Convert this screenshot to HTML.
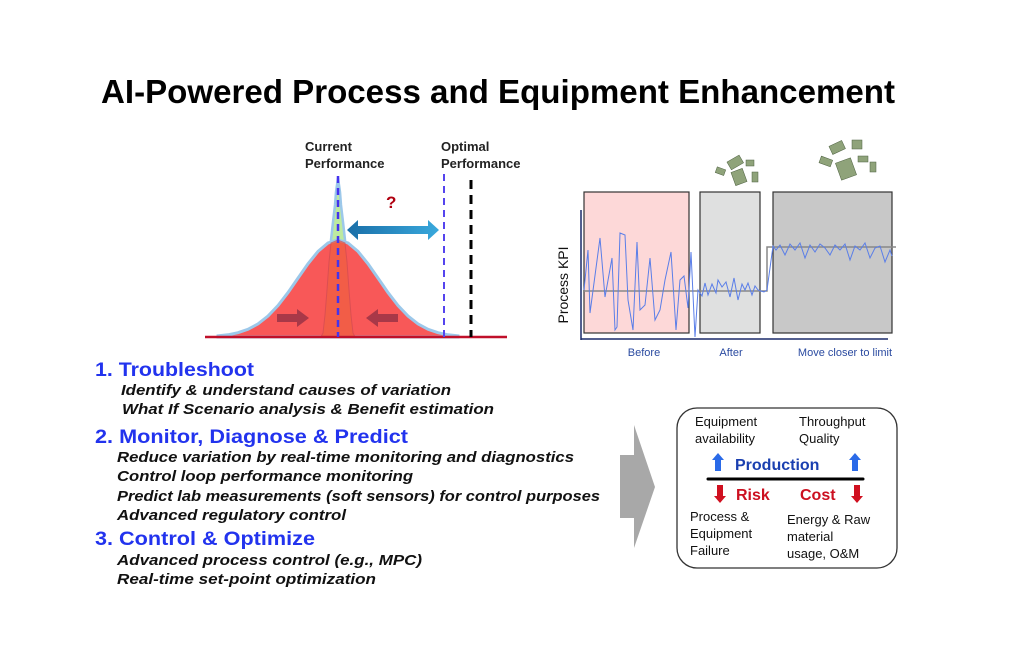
<!DOCTYPE html>
<html><head><meta charset="utf-8"><style>
html,body{margin:0;padding:0;background:#fff;}
svg{display:block;}
text{font-family:"Liberation Sans",sans-serif;}
.it{font-style:italic;font-weight:bold;font-size:15px;fill:#111;}
.hd{font-size:19px;fill:#2233ee;font-weight:bold;}
.sm{font-size:13px;fill:#111;}
</style></head><body>
<svg width="1024" height="665" viewBox="0 0 1024 665" xmlns="http://www.w3.org/2000/svg">
<defs>
<linearGradient id="ag" x1="0" x2="1"><stop offset="0" stop-color="#1a6fa8"/><stop offset="1" stop-color="#39a8dc"/></linearGradient>
</defs>
<text x="101" y="103" font-size="33" font-weight="bold" textLength="794" lengthAdjust="spacingAndGlyphs">AI-Powered Process and Equipment Enhancement</text>

<!-- bell curve -->
<text x="305" y="151" font-size="13" font-weight="bold" fill="#222">Current</text>
<text x="305" y="168" font-size="13" font-weight="bold" fill="#222">Performance</text>
<text x="441" y="151" font-size="13" font-weight="bold" fill="#222">Optimal</text>
<text x="441" y="168" font-size="13" font-weight="bold" fill="#222">Performance</text>
<path d="M320,337 L323,333 325,315 327,290 329,262 331,240 333,222 335,205 336,192 338,178 340,192 341,205 343,222 345,240 347,262 349,290 351,315 353,333 356,337 Z" fill="#bdeaa0" stroke="#9cc8ea" stroke-width="2.5"/>
<path d="M218,337 L218,335.9 228,334.8 238,332.7 248,329.3 258,323.9 268,316 278,305.5 288,292.6 298,278.1 308,263.8 318,251.4 328,243 338,240 348,243 358,251.4 368,263.8 378,278.1 388,292.6 398,305.5 408,316 418,323.9 428,329.3 438,332.7 448,334.8 458,335.9 458,337 Z" fill="#f85858" stroke="#9cc8ea" stroke-width="3"/>
<path d="M321,337 L323,333 325,315 327,290 329,262 331,243 338,240 345,243 347,262 349,290 351,315 353,333 355,337 Z" fill="#f06040" opacity="0.7" stroke="#d04a50" stroke-width="1"/>
<line x1="205" y1="337" x2="507" y2="337" stroke="#c0102a" stroke-width="2.5"/>
<line x1="338" y1="176" x2="338" y2="337" stroke="#4433ee" stroke-width="2.5" stroke-dasharray="7,5"/>
<line x1="444" y1="174" x2="444" y2="337" stroke="#5544ee" stroke-width="2" stroke-dasharray="7,5"/>
<line x1="471" y1="180" x2="471" y2="337" stroke="#000" stroke-width="3" stroke-dasharray="9,6"/>
<path d="M347,230 L358,220 358,226 428,226 428,220 439,230 428,240 428,234 358,234 358,240 Z" fill="url(#ag)"/>
<text x="386" y="208" font-size="17" font-weight="bold" fill="#b00010">?</text>
<path d="M277,314 h20 v-5 l12,9 -12,9 v-5 h-20 Z" fill="#a83848"/>
<path d="M398,314 h-20 v-5 l-12,9 12,9 v-5 h20 Z" fill="#a83848"/>

<!-- chart -->
<rect x="584" y="192" width="105" height="141" fill="#fdd8d8" stroke="#333" stroke-width="1.2"/>
<rect x="700" y="192" width="60" height="141" fill="#dfe0e0" stroke="#333" stroke-width="1.2"/>
<rect x="773" y="192" width="119" height="141" fill="#c8c8c8" stroke="#333" stroke-width="1.2"/>
<polyline points="584,291 767,291 767,247 896,247" fill="none" stroke="#888" stroke-width="1.5"/>
<polyline fill="none" stroke="#5a7ee8" stroke-width="1" points="584,290 588,250 590,313 600,238 605,297 612,258 615,330 617,327 620,233 625,235 628,300 633,330 637,242 640,310 645,305 650,258 655,320 660,310 665,280 671,252 676,330 680,280 684,276 688,308 691,252 695,337 698,290 702,296 705,283 708,295 712,284 716,293 718,280 722,287 726,282 730,297 734,278 738,300 742,284 745,290 748,283 752,295 755,286 758,290 764,292 767,290 773,246 776,250 780,245 785,255 790,244 795,250 800,243 805,258 810,245 815,252 820,244 825,248 830,255 835,245 840,250 845,244 850,260 855,246 860,250 865,243 870,258 875,248 880,246 885,262 890,250 892,256"/>
<line x1="581" y1="210" x2="581" y2="340" stroke="#1a2a6a" stroke-width="1.5"/>
<line x1="581" y1="339" x2="888" y2="339" stroke="#1a2a6a" stroke-width="1.5"/>
<text transform="translate(568,285) rotate(-90)" text-anchor="middle" font-size="14" fill="#111">Process  KPI</text>
<text x="644" y="356" text-anchor="middle" font-size="11" fill="#2a4aa0">Before</text>
<text x="731" y="356" text-anchor="middle" font-size="11" fill="#2a4aa0">After</text>
<text x="845" y="356" text-anchor="middle" font-size="11" fill="#2a4aa0">Move closer to limit</text>
<!-- money -->
<g fill="#8fa37a" stroke="#4d6040" stroke-width="0.5">
<rect x="728" y="158" width="14" height="9" transform="rotate(-30 735 162)"/>
<rect x="733" y="170" width="12" height="14" transform="rotate(-20 739 177)"/>
<rect x="746" y="160" width="8" height="6"/>
<rect x="716" y="168" width="9" height="6" transform="rotate(20 720 171)"/>
<rect x="752" y="172" width="6" height="10"/>
<rect x="830" y="143" width="14" height="9" transform="rotate(-25 837 147)"/>
<rect x="838" y="160" width="16" height="18" transform="rotate(-20 846 169)"/>
<rect x="852" y="140" width="10" height="9"/>
<rect x="858" y="156" width="10" height="6"/>
<rect x="820" y="158" width="12" height="7" transform="rotate(20 826 161)"/>
<rect x="870" y="162" width="6" height="10"/>
</g>

<!-- left text -->
<text x="95" y="376" class="hd" textLength="159" lengthAdjust="spacingAndGlyphs">1. Troubleshoot</text>
<text x="121" y="395" class="it" textLength="330" lengthAdjust="spacingAndGlyphs">Identify &amp; understand causes of variation</text>
<text x="122" y="414" class="it" textLength="372" lengthAdjust="spacingAndGlyphs">What If Scenario analysis &amp; Benefit estimation</text>
<text x="95" y="443" class="hd" textLength="313" lengthAdjust="spacingAndGlyphs">2. Monitor, Diagnose &amp; Predict</text>
<text x="117" y="462" class="it" textLength="457" lengthAdjust="spacingAndGlyphs">Reduce variation by real-time monitoring and diagnostics</text>
<text x="117" y="481" class="it" textLength="296" lengthAdjust="spacingAndGlyphs">Control loop performance monitoring</text>
<text x="117" y="501" class="it" textLength="483" lengthAdjust="spacingAndGlyphs">Predict lab measurements (soft sensors) for control purposes</text>
<text x="117" y="520" class="it" textLength="229" lengthAdjust="spacingAndGlyphs">Advanced regulatory control</text>
<text x="95" y="545" class="hd" textLength="220" lengthAdjust="spacingAndGlyphs">3. Control &amp; Optimize</text>
<text x="117" y="565" class="it" textLength="305" lengthAdjust="spacingAndGlyphs">Advanced  process control  (e.g., MPC)</text>
<text x="117" y="584" class="it" textLength="259" lengthAdjust="spacingAndGlyphs">Real-time set-point optimization</text>

<!-- big arrow -->
<polygon points="620,455 634,455 634,425 655,487 634,548 634,518 620,518" fill="#a8a8a8"/>

<!-- right box -->
<rect x="677" y="408" width="220" height="160" rx="20" fill="#fff" stroke="#333" stroke-width="1.3"/>
<text x="695" y="426" class="sm">Equipment</text>
<text x="695" y="443" class="sm">availability</text>
<text x="799" y="426" class="sm">Throughput</text>
<text x="799" y="443" class="sm">Quality</text>
<text x="735" y="470" font-size="16" font-weight="bold" fill="#1a3fb0">Production</text>
<path d="M718,453 l6,7 h-3 v11 h-6 v-11 h-3 Z" fill="#2a6ae8"/>
<path d="M855,453 l6,7 h-3 v11 h-6 v-11 h-3 Z" fill="#2a6ae8"/>
<line x1="708" y1="479" x2="863" y2="479" stroke="#000" stroke-width="3" stroke-linecap="round"/>
<path d="M720,503 l6,-7 h-3 v-11 h-6 v11 h-3 Z" fill="#d01020"/>
<path d="M857,503 l6,-7 h-3 v-11 h-6 v11 h-3 Z" fill="#d01020"/>
<text x="736" y="500" font-size="16" font-weight="bold" fill="#cc1020">Risk</text>
<text x="800" y="500" font-size="16" font-weight="bold" fill="#cc1020">Cost</text>
<text x="690" y="521" class="sm">Process &amp;</text>
<text x="690" y="538" class="sm">Equipment</text>
<text x="690" y="555" class="sm">Failure</text>
<text x="787" y="524" class="sm">Energy &amp; Raw</text>
<text x="787" y="541" class="sm">material</text>
<text x="787" y="558" class="sm">usage, O&amp;M</text>
</svg>
</body></html>
